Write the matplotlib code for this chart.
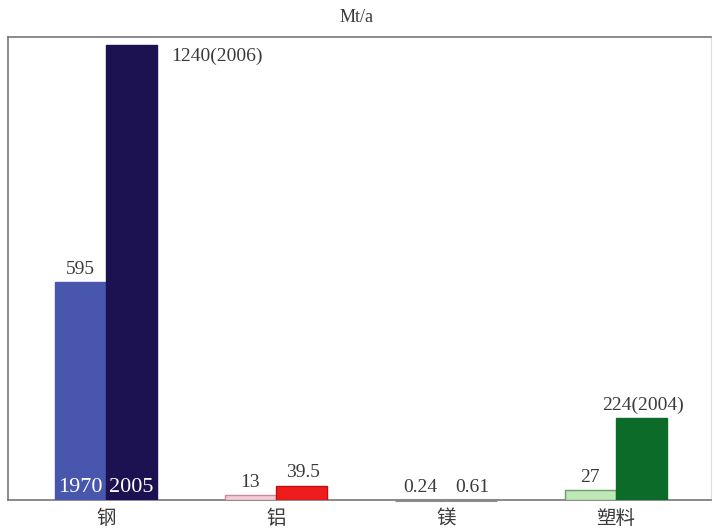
import matplotlib
matplotlib.use("Agg")
import matplotlib.pyplot as plt
import numpy as np

categories = ["钢", "铝", "镁", "塑料"]
values_1970 = [595, 13, 0.24, 27]
values_2005 = [1240, 39.5, 0.61, 224]
labels_1970 = ["595", "13", "0.24", "27"]
labels_2005 = ["1240(2006)", "39.5", "0.61", "224(2004)"]
colors_1970 = ["#4856ae", "#f7cbd6", "#f2f2f2", "#bfe8b8"]
colors_2005 = ["#1c1252", "#ee1c1c", "#ffffff", "#0d6b2a"]
edge_1970 = ["#4856ae", "#c98a9a", "#8a8a8a", "#6a9e66"]
edge_2005 = ["#1c1252", "#c01010", "#8a8a8a", "#0d6b2a"]
year_labels = ["1970", "2005"]
unit = "Mt/a"

serif = ["Liberation Serif", "DejaVu Serif"]
cjk = ["Noto Sans CJK SC", "DejaVu Sans"]
txt = "#3a3a3a"

fig = plt.figure(figsize=(7.14, 5.30), dpi=100)
ax = fig.add_axes([8/714, 1 - 500/530, (711-8)/714, (500-37)/530])

x = np.arange(len(categories), dtype=float)
w = 0.3
b1 = ax.bar(x - w/2, values_1970, w, color=colors_1970, edgecolor=edge_1970,
            linewidth=1.0, zorder=3)
b2 = ax.bar(x + w/2, values_2005, w, color=colors_2005, edgecolor=edge_2005,
            linewidth=1.0, zorder=3)
# make the tiny magnesium bars visible as thin outlined slabs
for b in (b1[2], b2[2]):
    b.set_linewidth(2.2)
    b.set_clip_on(False)

ax.set_xlim(-0.576, 3.56)
ax.set_ylim(0, 1262)

for i in range(len(categories)):
    ax.annotate(labels_1970[i], (x[i] - w/2, values_1970[i]), xytext=(0, 3),
                textcoords="offset points", ha="center", va="bottom",
                fontsize=14, family=serif, color=txt)
    if i == 0:
        ax.annotate(labels_2005[i], (x[i] + w, values_2005[i]), xytext=(10, -2),
                    textcoords="offset points", ha="left", va="top",
                    fontsize=14, family=serif, color=txt)
    else:
        ax.annotate(labels_2005[i], (x[i] + w/2, values_2005[i]), xytext=(1, 3),
                    textcoords="offset points", ha="center", va="bottom",
                    fontsize=14, family=serif, color=txt)

ax.annotate(year_labels[0], (x[0] - w/2, 0), xytext=(0, 2), textcoords="offset points",
            ha="center", va="bottom", fontsize=16, family=serif, color="white", zorder=4)
ax.annotate(year_labels[1], (x[0] + w/2, 0), xytext=(0, 2), textcoords="offset points",
            ha="center", va="bottom", fontsize=16, family=serif, color="white", zorder=4)

ax.set_xticks(x)
ax.set_xticklabels(categories, family=cjk, fontsize=14, color=txt)
ax.tick_params(axis="x", length=0, pad=6)
ax.set_yticks([])

for s in ["left", "top", "bottom"]:
    ax.spines[s].set_color("#777777")
    ax.spines[s].set_linewidth(1.2)
ax.spines["right"].set_color("#dddddd")
ax.spines["right"].set_linewidth(0.8)

fig.text(357/714, 1 - 17/530, unit, ha="center", va="center", fontsize=13,
         family=serif, color=txt)

fig.savefig("out.png", dpi=100)
